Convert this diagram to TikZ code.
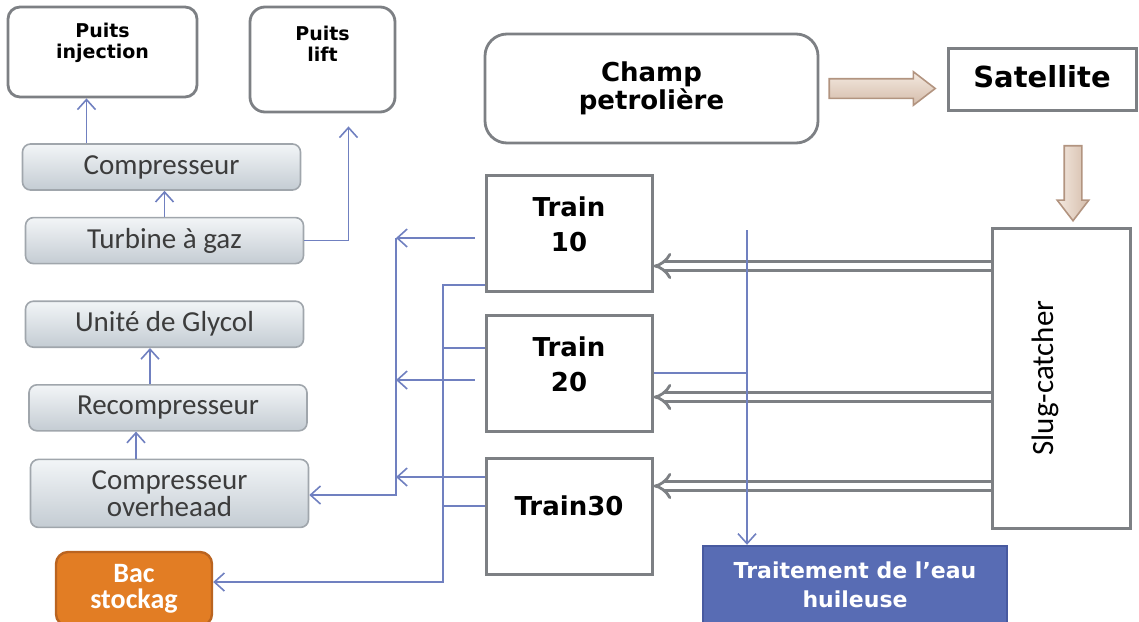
\documentclass[tikz,border=0pt]{standalone}
\usepackage{fontspec}
\usepackage{graphicx}
\setmainfont{Carlito}
\newfontfamily\verd{DejaVu Sans}
\definecolor{boxgray}{RGB}{125,128,132}
\definecolor{flowblue}{RGB}{112,128,192}
\definecolor{shadetop}{RGB}{242,245,247}
\definecolor{shadebot}{RGB}{196,204,211}
\definecolor{shadeline}{RGB}{160,166,172}
\definecolor{bacfill}{RGB}{226,125,36}
\definecolor{bacline}{RGB}{186,100,32}
\definecolor{traitfill}{RGB}{88,108,180}
\definecolor{traitline}{RGB}{72,90,160}
\definecolor{tanlight}{RGB}{244,233,224}
\definecolor{tandark}{RGB}{212,188,170}
\definecolor{tanline}{RGB}{178,148,128}
\definecolor{txtgray}{RGB}{60,60,60}
\tikzstyle{wellbox}=[rectangle,rounded corners=6pt,draw=boxgray,line width=1.4pt,fill=white,inner sep=0pt]
\tikzstyle{welltext}=[align=center,font=\verd\bfseries\fontsize{9.5}{10.5}\selectfont]
\tikzstyle{unitbox}=[rectangle,rounded corners=4pt,draw=shadeline,line width=0.8pt,
top color=shadetop,bottom color=shadebot,minimum width=139pt,minimum height=23pt,
text=txtgray,align=center,font=\fontsize{14.5}{13.5}\selectfont]
\tikzstyle{trainbox}=[rectangle,draw=boxgray,line width=1.5pt,fill=white,
minimum width=83pt,minimum height=58pt,inner sep=0pt]
\tikzstyle{traintext}=[align=center,yshift=4.75pt,font=\verd\bfseries\fontsize{13}{17.5}\selectfont]
\tikzstyle{plainbox}=[rectangle,draw=boxgray,line width=1.5pt,fill=white,inner sep=0pt]
\tikzstyle{tanarrow}=[single arrow,draw=tanline,line width=0.8pt,inner sep=4.5pt,
single arrow head extend=3.5pt,single arrow tip angle=75]
\tikzstyle{dbl}=[draw=boxgray,line width=1.4pt,double=white,double distance=3pt,-{Implies[length=6pt]}]
\tikzstyle{flow}=[draw=flowblue,line width=0.8pt]
\usetikzlibrary{positioning,shapes.arrows,arrows.meta}

\begin{document}
\begin{tikzpicture}[x=0.5pt,y=-0.5pt,>={Straight Barb[length=5pt,width=9pt]}]
            \clip (0,0) rectangle (1139,621);

            % WELLS PART

            \node[wellbox,minimum width=94.5pt,minimum height=45pt,
                  label={[welltext,yshift=4.5pt]center:{Puits\\injection}}] (inj) at (102.5,52) {};
            \node[wellbox,rounded corners=7.5pt,minimum width=72.5pt,minimum height=52.5pt,
                  label={[welltext,yshift=8pt]center:{Puits\\lift}}] (lift) at (322.5,59.5) {};
            \coordinate (liftin) at ([xshift=13pt,yshift=-6.5pt]lift.south);

            % UNITS PART

            \node[unitbox] (comp) at (161.5,167) {Compresseur};
            \node[unitbox,below=13pt of comp,xshift=1.5pt] (turb) {Turbine à gaz};
            \node[unitbox,below=18pt of turb] (glyc) {Unité de Glycol};
            \node[unitbox,below=18pt of glyc,xshift=1.75pt] (recomp) {Recompresseur};
            \node[unitbox,below=13.5pt of recomp,xshift=0.75pt,minimum height=34pt] (over) {Compresseur\\overheaad};
            \node[rectangle,rounded corners=6pt,draw=bacline,line width=1.2pt,fill=bacfill,
                  minimum width=78pt,minimum height=37pt,text=white,align=center,
                  font=\bfseries\fontsize{14}{13}\selectfont] (bac) at (134,589) {Bac\\stockag};

            \draw[flow,->] ([xshift=-8pt]inj.south |- comp.north) -- ([xshift=-8pt]inj.south);
            \draw[flow,->] (turb.north) -- (turb.north |- comp.south);
            \draw[flow,->] (turb.east) -| (liftin);
            \draw[flow,->] ([xshift=-9pt]recomp.north) -- ([xshift=-9pt]recomp.north |- glyc.south);
            \draw[flow,->] ([xshift=-16.75pt]over.north) -- ([xshift=-16.75pt]over.north |- recomp.south);

            % FIELD PART

            \node[wellbox,rounded corners=11pt,minimum width=166.5pt,minimum height=54.5pt,
                  align=center,font=\verd\bfseries\fontsize{13}{13}\selectfont] (champ) at (651.5,88.5) {Champ\\petrolière};
            \node[plainbox,minimum width=94pt,minimum height=31pt,
                  font=\verd\bfseries\fontsize{14.5}{15}\selectfont] (sat) at (1042,79) {\raisebox{2.5pt}{Satellite}};
            \node[plainbox,minimum width=69pt,minimum height=150pt,
                  font=\fontsize{15.5}{16}\selectfont] (slug) at (1061,378) {\hspace*{-16pt}\rotatebox{90}{Slug-catcher}};
            \node[rectangle,draw=traitline,line width=1.2pt,fill=traitfill,minimum width=152pt,minimum height=39pt,
                  text=white,align=center,font=\verd\bfseries\fontsize{11}{14.5}\selectfont] (trait) at (855,585) {Traitement de l’eau\\huileuse};

            \node[tanarrow,top color=tanlight,bottom color=tandark,minimum height=53pt,right=4.5pt of champ] (ar1) {};
            \node[tanarrow,left color=tanlight,right color=tandark,shape border rotate=270,minimum height=37.5pt,
                  inner sep=4pt] (ar2) at ([xshift=15.5pt,yshift=-33pt]sat.south) {};

            % TRAINS PART

            \node[trainbox,label={[traintext]center:{Train\\10}}] (t10) at (569,233.5) {};
            \node[trainbox,below=10.5pt of t10,label={[traintext]center:{Train\\20}}] (t20) {};
            \node[trainbox,below=12pt of t20,label={[traintext,yshift=0.5pt]center:{Train30}}] (t30) {};

            \coordinate (s1) at ([yshift=56pt]slug.west);
            \coordinate (s2) at ([yshift=-9.5pt]slug.west);
            \coordinate (s3) at ([yshift=-54pt]slug.west);
            \draw[dbl] (s1) -- (t10.east |- s1);
            \draw[dbl] (s2) -- (t20.east |- s2);
            \draw[dbl] (s3) -- (t30.east |- s3);

            % Gas to the left

            \coordinate (ga) at (396,238);
            \coordinate (gb) at (396,380);
            \coordinate (gc) at (396,477);
            \coordinate (gd) at (396,495);
            \draw[flow,->] ([xshift=-5pt]t10.west |- ga) -- (ga);
            \draw[flow,->] ([xshift=-5pt]t20.west |- gb) -- (gb);
            \draw[flow,->] (t30.west |- gc) -- (gc);
            \draw[flow,->] (ga) -- (gd) -- (over.east |- gd);

            % Oil to the tank

            \coordinate (la) at (443,285);
            \coordinate (lb) at (443,348);
            \coordinate (lc) at (443,506);
            \coordinate (ld) at (443,582);
            \draw[flow,->] (t10.west |- la) -- (la) -- (ld) -- (bac.east |- ld);
            \draw[flow] (lb) -- (t20.west |- lb);
            \draw[flow] (lc) -- (t30.west |- lc);

            % Oily water

            \coordinate (wa) at (747,230);
            \coordinate (wb) at (747,373);
            \draw[flow,->] (wa) -- (wa |- trait.north);
            \draw[flow] (t20.east |- wb) -- (wb);

        \end{tikzpicture}
\end{document}
